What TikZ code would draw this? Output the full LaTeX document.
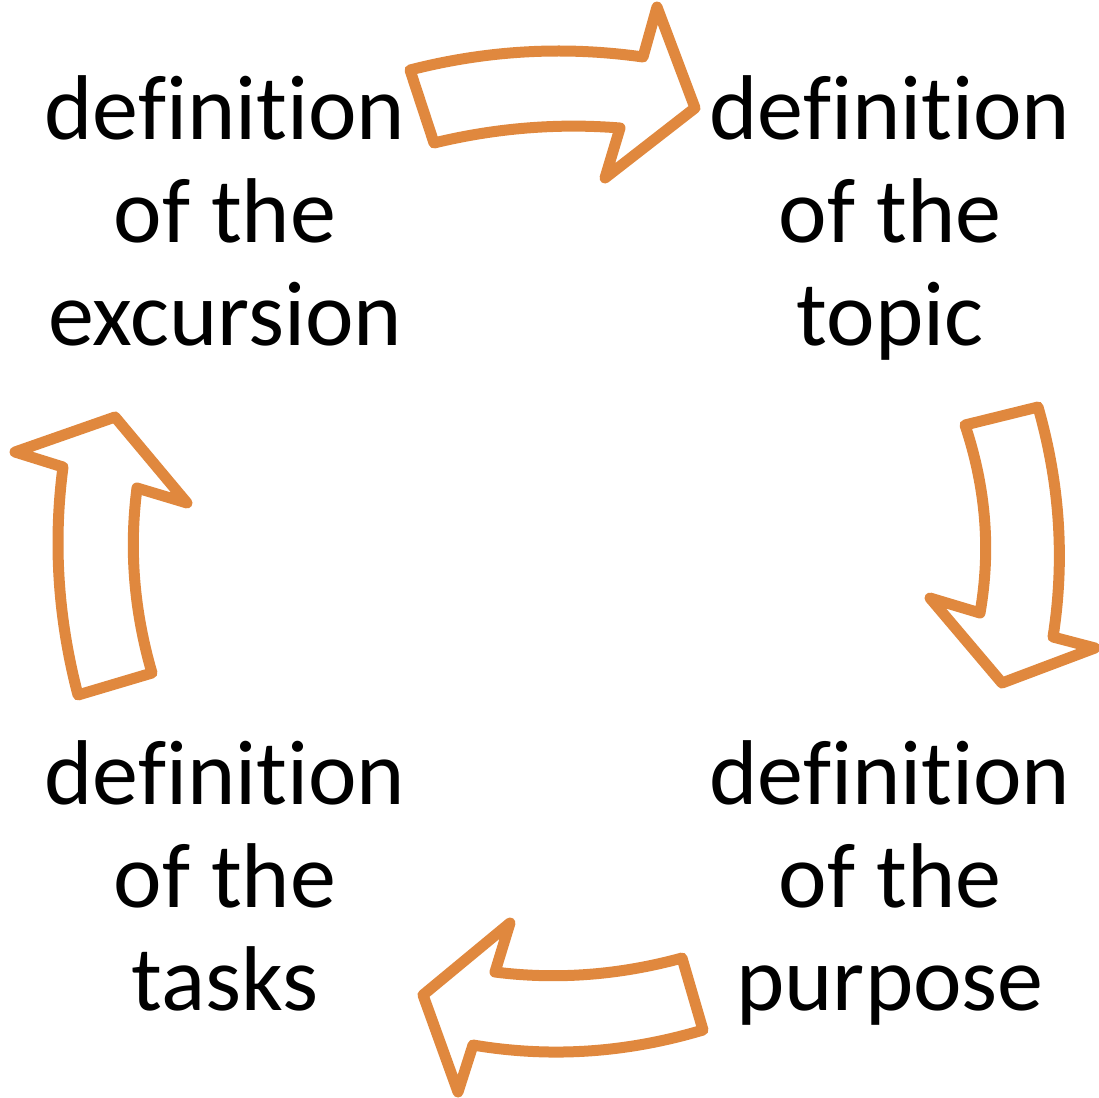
\documentclass[tikz,border=0pt]{standalone}
\usepackage{fontspec}
\setmainfont{Carlito}[Ligatures=NoCommon]
\usepackage{xcolor}
\definecolor{arrorange}{RGB}{224,136,62}

\begin{document}
\begin{tikzpicture}[x=1pt, y=-1pt,
		steptext/.style={align=center, font=\fontsize{92}{103}\selectfont, inner sep=0pt, anchor=base},
		blockarrow/.style={draw=arrorange, line width=11pt, line join=round, fill=white}]
				% Frame:
				\useasboundingbox (0,0) rectangle (1099,1097);
				% Texts (anchored on their last line):
				\node[steptext] (excursion) at (225, 345){definition\\of the\\excursion};
				\node[steptext] (topic) at (890, 345){definition\\of the\\topic};
				\node[steptext] (purpose) at (890, 1010){definition\\of the\\purpose};
				\node[steptext] (tasks) at (225, 1010){definition\\of the\\tasks};
				% Arrows:
				\draw[blockarrow] (410, 70) .. controls (488, 50) and (565, 46) .. (643, 57) -- (657, 7) -- (695, 108)
					-- (605, 178) -- (620, 128) .. controls (558, 123) and (496, 128) .. (434, 143) -- cycle;
				\draw[blockarrow] (1038, 407) .. controls (1060, 484) and (1065, 560) .. (1053, 637) -- (1095, 648) -- (1002, 683)
					-- (930, 598) -- (980, 613) .. controls (991, 550) and (986, 488) .. (965, 425) -- cycle;
				\draw[blockarrow] (703, 1030) .. controls (626, 1053) and (550, 1058) .. (473, 1045) -- (458, 1092) -- (423, 995)
					-- (510, 923) -- (495, 972) .. controls (557, 980) and (620, 975) .. (682, 958) -- cycle;
				\draw[blockarrow] (78, 695) .. controls (58, 619) and (53, 543) .. (63, 467) -- (15, 452) -- (115, 417)
					-- (187, 503) -- (137, 488) .. controls (129, 550) and (134, 611) .. (152, 673) -- cycle;
			\end{tikzpicture}
\end{document}
